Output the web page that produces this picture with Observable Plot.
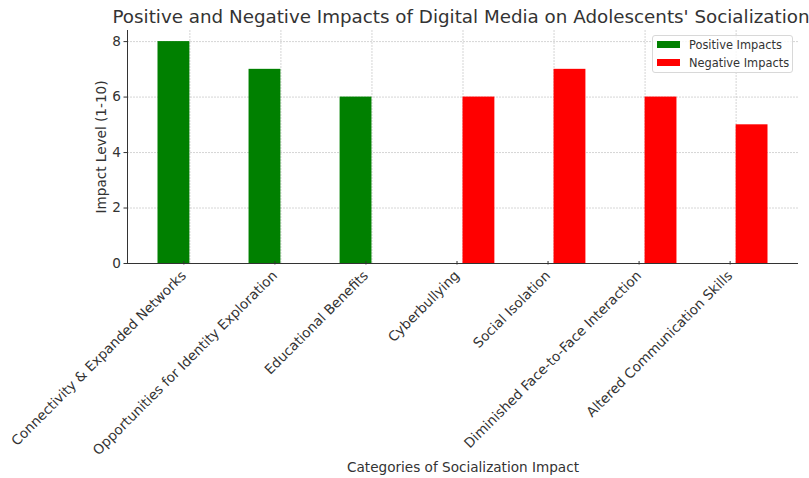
<!DOCTYPE html>
<html>
<head>
<meta charset="utf-8">
<script src="https://cdn.jsdelivr.net/npm/d3@7"></script>
<script src="https://cdn.jsdelivr.net/npm/@observablehq/plot@0.6"></script>
<style>
  html, body { margin: 0; padding: 0; background: #fff; }
  #wrap { position: relative; width: 809px; height: 478px; font-family: "DejaVu Sans", sans-serif; }
  #legend { position: absolute; left: 652px; top: 35px; width: 139px; height: 36px; border: 1px solid #d8d8d8; border-radius: 3px; background: rgba(255,255,255,0.8); font-size: 11.4px; color: #333; }
  .item { position: absolute; left: 4px; height: 12px; line-height: 12px; white-space: nowrap; }
  .sw { display: inline-block; width: 23px; height: 7.5px; vertical-align: middle; margin-right: 9px; position: relative; top: -1px; }
</style>
</head>
<body>
<div id="wrap"></div>
<script>
const categories = [
  "Connectivity & Expanded Networks",
  "Opportunities for Identity Exploration",
  "Educational Benefits",
  "Cyberbullying",
  "Social Isolation",
  "Diminished Face-to-Face Interaction",
  "Altered Communication Skills"
];
const positiveValues = [8, 7, 6, 0, 0, 0, 0];
const negativeValues = [0, 0, 0, 6, 7, 6, 5];
const yTicks = [0, 2, 4, 6, 8];
const seriesNames = ["Positive Impacts", "Negative Impacts"];
const seriesColors = ["green", "red"];

const barWidth = 0.35;
const pos = categories.map((c, i) => ({i, c, v: positiveValues[i]}));
const neg = categories.map((c, i) => ({i, c, v: negativeValues[i]}));
const xIdx = categories.map((c, i) => i);
const yMax = d3.max([...positiveValues, ...negativeValues]) * 1.05;

const chart = Plot.plot({
  width: 809,
  height: 478,
  marginLeft: 127,
  marginRight: 11,
  marginTop: 30,
  marginBottom: 215,
  style: {fontFamily: "DejaVu Sans, sans-serif", color: "#333", background: "white"},
  x: {type: "linear", domain: [-0.685, 6.685]},
  y: {domain: [0, yMax]},
  marks: [
    Plot.gridY(yTicks, {stroke: "#b8b8b8", strokeOpacity: 1, strokeWidth: 0.6, strokeDasharray: "2,1"}),
    Plot.gridX(xIdx, {stroke: "#b8b8b8", strokeOpacity: 1, strokeWidth: 0.6, strokeDasharray: "2,1"}),
    Plot.rectY(pos, {x1: d => d.i - barWidth, x2: d => d.i, y1: 0, y2: "v", fill: seriesColors[0]}),
    Plot.rectY(neg, {x1: d => d.i, x2: d => d.i + barWidth, y1: 0, y2: "v", fill: seriesColors[1]}),
    Plot.ruleY([0], {stroke: "#333", strokeWidth: 1}),
    Plot.ruleX([-0.685], {stroke: "#333", strokeWidth: 1}),
    Plot.axisY({ticks: yTicks, tickSize: 3.5, tickPadding: 3, fontSize: 13.6, label: null, stroke: "#333"}),
    Plot.axisX({ticks: xIdx, tickFormat: i => categories[i], tickRotate: -45, textAnchor: "end", tickSize: 3.5, fontSize: 13.6, label: null, stroke: "#333", dx: -6, dy: -2}),
    Plot.text(["Positive and Negative Impacts of Digital Media on Adolescents' Socialization"], {frameAnchor: "top", lineAnchor: "middle", dx: -2, dy: -13, fontSize: 18.3, fill: "#333"}),
    Plot.text(["Categories of Socialization Impact"], {frameAnchor: "bottom", lineAnchor: "middle", dy: 204, fontSize: 13.6, fill: "#333"}),
    Plot.text(["Impact Level (1-10)"], {frameAnchor: "left", textAnchor: "middle", dx: -26, rotate: -90, fontSize: 13.6, fill: "#333"})
  ]
});

const wrap = document.getElementById("wrap");
wrap.appendChild(chart);
const legend = document.createElement("div");
legend.id = "legend";
seriesNames.forEach((name, k) => {
  const item = document.createElement("div");
  item.className = "item";
  item.style.top = (3 + k * 18) + "px";
  item.innerHTML = `<span class="sw" style="background:${seriesColors[k]}"></span>${name}`;
  legend.appendChild(item);
});
wrap.appendChild(legend);
</script>
</body>
</html>
